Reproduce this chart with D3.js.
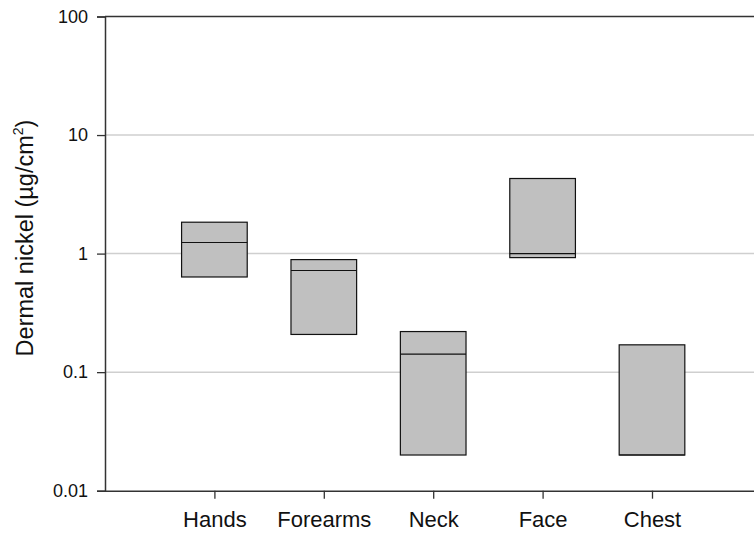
<!DOCTYPE html>
<html>
<head>
<meta charset="utf-8">
<script src="https://cdn.jsdelivr.net/npm/d3@7"></script>
<style>
  html, body { margin: 0; padding: 0; background: #fff; }
  svg { display: block; font-family: "Liberation Sans", Arial, sans-serif; }
</style>
</head>
<body>
<svg id="chart" width="754" height="537"></svg>
<script>
// Body sites and box bounds (µg/cm²)
const categories = ["Hands", "Forearms", "Neck", "Face", "Chest"];
const lowerQuartile = [0.635, 0.208, 0.02, 0.925, 0.02];
const medianValue   = [1.24, 0.72, 0.142, 1.0, 0.02];
const upperQuartile = [1.84, 0.89, 0.22, 4.3, 0.17];
const yTicks = [0.01, 0.1, 1, 10, 100];
const gridValues = [0.1, 1, 10];

const svg = d3.select("#chart");
const W = 754, H = 537;
const plotLeft = 105, plotTop = 16.5, plotBottom = 490.7;

// Category positions 1..5 on a 0..6 axis; right end runs past the frame
const x = d3.scaleLinear().domain([0, 6]).range([plotLeft, plotLeft + 6 * 109.4]);
const y = d3.scaleLog().domain([0.01, 100]).range([plotBottom, plotTop]);
const boxW = x(0.6) - x(0);

// horizontal gridlines
svg.append("g").selectAll("line").data(gridValues).join("line")
  .attr("x1", plotLeft).attr("x2", W)
  .attr("y1", d => y(d)).attr("y2", d => y(d))
  .attr("stroke", "#cfcfcf").attr("stroke-width", 1.5);

// boxes
const rows = categories.map((c, i) => ({
  c, i: i + 1, lo: lowerQuartile[i], md: medianValue[i], hi: upperQuartile[i]
}));
const boxes = svg.append("g").selectAll("g").data(rows).join("g");
boxes.append("rect")
  .attr("x", d => x(d.i) - boxW / 2)
  .attr("y", d => y(d.hi))
  .attr("width", boxW)
  .attr("height", d => y(d.lo) - y(d.hi))
  .attr("fill", "#c0c0c0")
  .attr("stroke", "#111")
  .attr("stroke-width", 1.2);
boxes.append("line")
  .attr("x1", d => x(d.i) - boxW / 2)
  .attr("x2", d => x(d.i) + boxW / 2)
  .attr("y1", d => y(d.md)).attr("y2", d => y(d.md))
  .attr("stroke", "#111").attr("stroke-width", 1.2);

// top frame line
svg.append("line")
  .attr("x1", plotLeft).attr("x2", W)
  .attr("y1", y(100)).attr("y2", y(100))
  .attr("stroke", "#333").attr("stroke-width", 1.5);

// y axis
const fmt = d => (d >= 1 ? d3.format("d")(d) : String(d));
const yAxis = svg.append("g")
  .attr("transform", `translate(${plotLeft},0)`)
  .call(d3.axisLeft(y).tickValues(yTicks).tickFormat(fmt).tickSize(8).tickPadding(9));
yAxis.select(".domain").attr("stroke", "#333").attr("stroke-width", 1.5);
yAxis.selectAll(".tick line").attr("stroke", "#333").attr("stroke-width", 1.3);
yAxis.selectAll("text").attr("font-size", 18).attr("fill", "#111")
  .attr("font-family", "Liberation Sans, Arial, sans-serif");

// x axis
const xAxis = svg.append("g")
  .attr("transform", `translate(0,${plotBottom})`)
  .call(d3.axisBottom(x).tickValues([1, 2, 3, 4, 5])
    .tickFormat(d => categories[d - 1]).tickSize(8).tickPadding(13).tickSizeOuter(0));
xAxis.select(".domain").attr("stroke", "#333").attr("stroke-width", 1.5);
xAxis.selectAll(".tick line").attr("stroke", "#333").attr("stroke-width", 1.3);
xAxis.selectAll("text").attr("font-size", 22).attr("fill", "#111")
  .attr("font-family", "Liberation Sans, Arial, sans-serif");

// y axis title with superscript
const title = svg.append("text")
  .attr("transform", "translate(33,238) rotate(-90)")
  .attr("text-anchor", "middle")
  .attr("font-size", 23.5).attr("fill", "#111");
title.append("tspan").text("Dermal nickel (µg/cm");
title.append("tspan").text("2").attr("font-size", 14).attr("dy", -10);
title.append("tspan").text(")").attr("dy", 10);
</script>
</body>
</html>
